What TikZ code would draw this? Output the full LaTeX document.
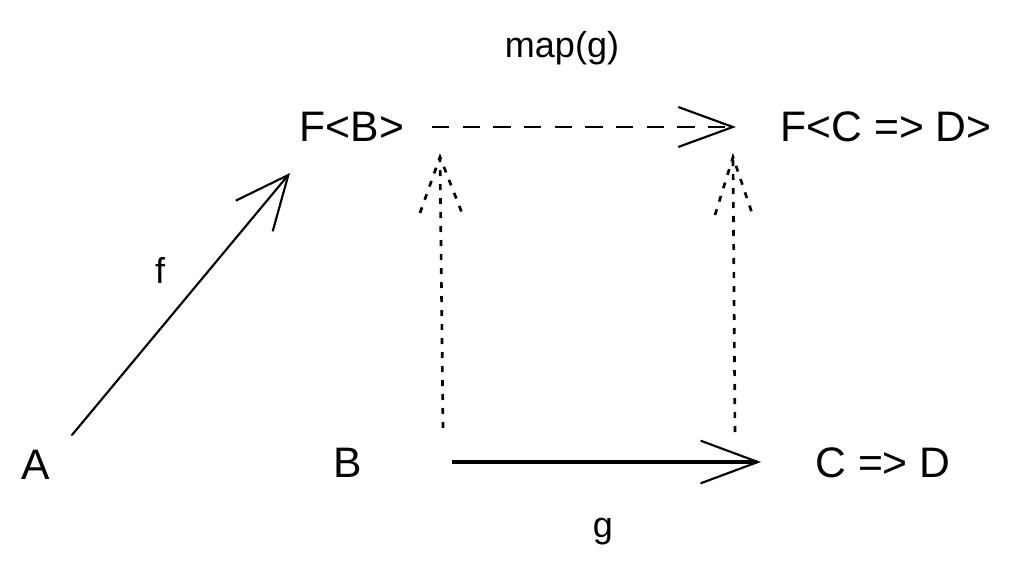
\documentclass[tikz,border=0pt]{standalone}
\usepackage{fontspec}
\setmainfont{Liberation Sans}
\usetikzlibrary{arrows.meta}
\begin{document}
\begin{tikzpicture}[x=0.75pt,y=-0.75pt,
  lbl/.style={inner sep=0pt,font=\fontsize{32}{38}\selectfont},
  smalllbl/.style={inner sep=0pt,font=\fontsize{27}{32}\selectfont},
  solidarrow/.style={line width=1.6pt,line cap=round,-{Straight Barb[length=40pt,width=36pt,line width=1.6pt]}},
  dasharrow/.style={line width=2pt,dash pattern=on 13pt off 10pt,-{Straight Barb[length=41pt,width=30pt,line width=1.6pt]}},
  dotline/.style={line width=2pt,dash pattern=on 4.5pt off 6pt},
  garrow/.style={line width=2.5pt,-{Straight Barb[length=43pt,width=32pt,line width=1.6pt]}}]
\useasboundingbox (0,0) rectangle (1016,566);
% nodes
\node[lbl] (A) at (36,465) {A};
\node[lbl] (B) at (348,463) {B};
\node[lbl] (CD) at (883,463) {C => D};
\node[lbl] (FB) at (352,127) {F<B>};
\node[lbl] (FCD) at (886,127) {F<C => D>};
\node[smalllbl] (mapg) at (562,48) {map(g)};
\node[smalllbl] (f) at (160,270) {f};
\node[smalllbl] (g) at (603,532) {g};
% connector end points
\coordinate (a1) at (72,435);
\coordinate (a2) at (290,173);
\coordinate (d1) at (432,127);
\coordinate (d2) at (736,127);
\coordinate (g1) at (452,462);
\coordinate (g2) at (761,462);
\coordinate (l1) at (443,428);
\coordinate (l2) at (440,157);
\coordinate (r1) at (735,432);
\coordinate (r2) at (733,157);
% f arrow
\draw[solidarrow] (a1) -- (a2);
% map(g) dashed arrow
\draw[dasharrow] (d1) -- (d2);
% g arrow
\draw[garrow] (g1) -- (g2);
% dotted lift arrows
\draw[dotline] (l1) -- (l2);
\draw[dotline] (420,213) -- (l2) -- (462,213);
\draw[dotline] (r1) -- (r2);
\draw[dotline] (715,215) -- (r2) -- (752,213);
\end{tikzpicture}
\end{document}
